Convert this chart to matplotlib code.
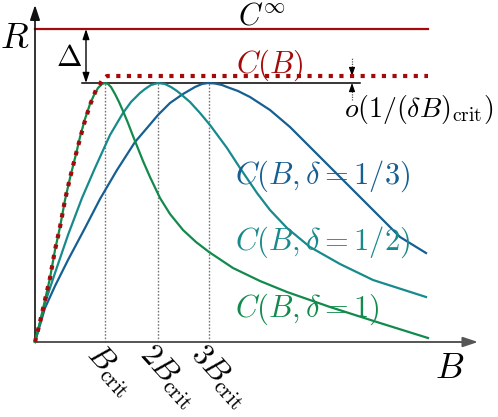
import matplotlib
matplotlib.use('Agg')
from matplotlib import pyplot as plt

plt.rcParams['mathtext.fontset'] = 'cm'

# curve samples (arbitrary B / R units)
green_b = [0, 5, 10, 15, 20, 25, 30, 35, 42, 45, 50, 55, 59, 63, 67, 70, 73, 76, 80,
           84, 88, 93, 98, 108, 115, 125, 135, 148, 161, 174, 198, 225, 252, 295, 345, 393]
green_r = [0, 20, 42, 64, 92, 115, 142, 164, 192, 205, 223, 238, 247, 254, 258, 259,
           258, 255, 248, 240, 231, 219, 206, 181, 165, 144, 128, 112, 100, 90, 74, 61,
           50, 35, 19, 4]

teal_b = [0, 10, 20, 33, 47, 60, 65, 75, 88, 96, 105, 110, 116, 123, 130, 136, 142,
          148, 155, 165, 175, 192, 205, 222, 235, 252, 275, 305, 338, 391]
teal_r = [0, 39, 69, 107, 144, 174, 185, 207, 229, 240, 249, 253, 257, 259, 258, 255,
          251, 246, 240, 229, 217, 194, 174, 149, 132, 114, 95, 78, 62, 45]

blue_b = [0, 10, 20, 33, 50, 65, 82, 100, 112, 123, 135, 148, 160, 167, 173, 180, 187,
          192, 203, 215, 235, 255, 265, 285, 305, 325, 345, 358, 365, 391]
blue_r = [0, 34, 56, 82, 114, 143, 172, 200, 214, 227, 239, 248, 255, 258, 259, 258.5,
          257, 255, 251, 245, 232, 215, 205, 185, 165, 145, 125, 112, 105, 89]

env_b = [0, 5, 10, 15, 20, 25, 30, 35, 42, 49, 55, 61, 68, 72, 393]
env_r = [0, 20, 42, 64, 92, 115, 142, 164, 192, 218, 237, 252, 263, 266, 266]

c_inf = 313
r_peak = 259
b_crit_ticks = [70, 123, 174]
tick_labels = [r'$B_{\mathrm{crit}}$', r'$2B_{\mathrm{crit}}$', r'$3B_{\mathrm{crit}}$']

RED = '#a50a0a'
GREEN = '#128a4c'
TEAL = '#178a8c'
BLUE = '#165f92'

fig = plt.figure(figsize=(4.98, 4.17), dpi=100)
ax = fig.add_axes([0, 0, 1, 1])
ax.set_xlim(-35, 463)
ax.set_ylim(-75, 342)
ax.axis('off')

# axes with arrows
ax.annotate('', xy=(443, 0), xytext=(0, 0),
            arrowprops=dict(arrowstyle='-|>,head_length=0.9,head_width=0.3',
                            color='#555555', lw=1.4, shrinkA=0, shrinkB=0))
ax.annotate('', xy=(0, 337), xytext=(0, 0),
            arrowprops=dict(arrowstyle='-|>,head_length=0.9,head_width=0.3',
                            color='#111111', lw=1.2, shrinkA=0, shrinkB=0))
ax.text(-20, 304, r'$R$', fontsize=26, ha='center', va='center')
ax.text(415, -26, r'$B$', fontsize=26, ha='center', va='center')

# dotted drop lines at the peaks
for b in b_crit_ticks:
    ax.plot([b, b], [0, r_peak], color='#777777', lw=1.0, ls=(0, (1.2, 1.2)), zorder=1)
for b, lab in zip(b_crit_ticks, tick_labels):
    ax.text(b - 2, 3, lab, fontsize=22, rotation=-48, rotation_mode='anchor',
            ha='left', va='top')

# limiting lines
ax.plot([0, 393], [c_inf, c_inf], color=RED, lw=1.6)
ax.plot([47, 325], [r_peak, r_peak], color='black', lw=1.1)

ax.plot(blue_b, blue_r, color=BLUE, lw=1.6, zorder=3)
ax.plot(teal_b, teal_r, color=TEAL, lw=1.6, zorder=3)
ax.plot(green_b, green_r, color=GREEN, lw=1.6, zorder=3)
ax.plot(env_b, env_r, color=RED, lw=3, ls=(0, (1, 1.55)), solid_capstyle='butt',
        dash_capstyle='butt', zorder=4)

# gap annotations
ax.annotate('', xy=(51, r_peak), xytext=(51, c_inf),
            arrowprops=dict(arrowstyle='<|-|>,head_length=0.6,head_width=0.2',
                            color='black', lw=1.0, shrinkA=0, shrinkB=0))
ax.text(34, 285, r'$\Delta$', fontsize=22, ha='center', va='center')

ax.plot([317, 317], [270, 285], color='#555555', lw=0.9, ls=(0, (1, 1)))
ax.plot([317, 317], [242, 255], color='#555555', lw=0.9, ls=(0, (1, 1)))
ax.annotate('', xy=(317, 266), xytext=(317, 272),
            arrowprops=dict(arrowstyle='-|>,head_length=0.5,head_width=0.18',
                            color='black', lw=0.8, shrinkA=0, shrinkB=0))
ax.annotate('', xy=(317, r_peak), xytext=(317, 253),
            arrowprops=dict(arrowstyle='-|>,head_length=0.5,head_width=0.18',
                            color='black', lw=0.8, shrinkA=0, shrinkB=0))
ax.text(309, 225, r'$o(1/(\delta B)_{\mathrm{crit}})$', fontsize=20, ha='left', va='baseline')

# labels
ax.text(203, 318, r'$C^\infty$', fontsize=22, ha='left', va='baseline')
ax.text(201, 269, r'$C(B)$', fontsize=22, ha='left', va='baseline', color=RED)
ax.text(200, 158, r'$C(B,\delta=1/3)$', fontsize=22, ha='left', va='baseline', color=BLUE)
ax.text(200, 92, r'$C(B,\delta=1/2)$', fontsize=22, ha='left', va='baseline', color=TEAL)
ax.text(200, 25, r'$C(B,\delta=1)$', fontsize=22, ha='left', va='baseline', color=GREEN)

fig.savefig('out.png', dpi=100)
